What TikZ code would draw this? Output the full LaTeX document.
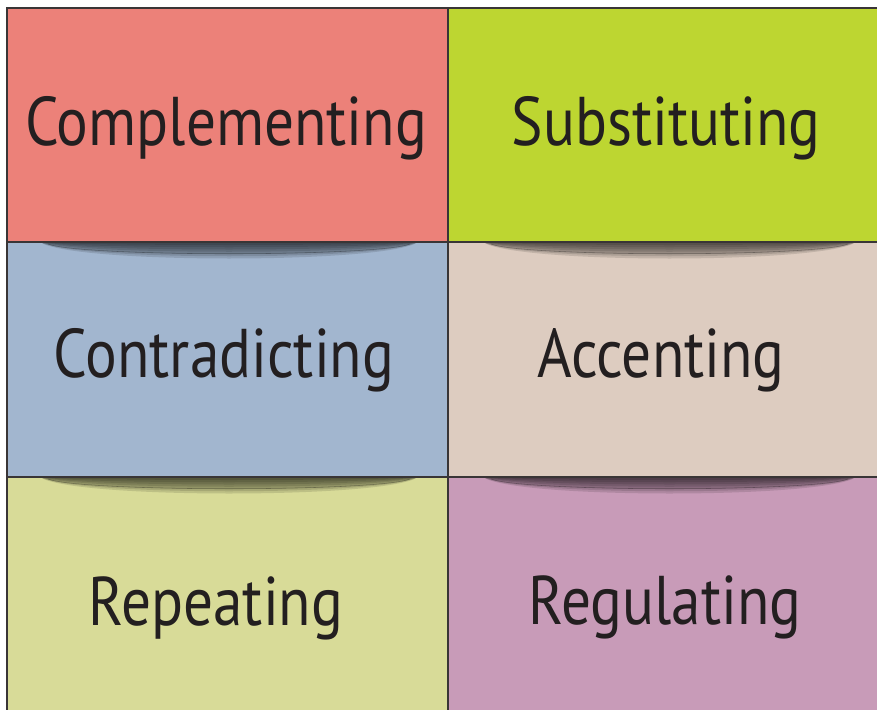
\documentclass[tikz,border=0pt]{standalone}
\usepackage{fontspec}
\setmainfont{PT Sans}[FakeStretch=0.86]
\definecolor{compl}{HTML}{EC8179}
\definecolor{subst}{HTML}{BDD631}
\definecolor{contra}{HTML}{A2B6CF}
\definecolor{accent}{HTML}{DDCCC0}
\definecolor{repeat}{HTML}{D8DB98}
\definecolor{regul}{HTML}{C89BB8}
\definecolor{ink}{HTML}{231F20}
\begin{document}
\begin{tikzpicture}[x=0.025cm, y=-0.025cm,
          cell/.style={draw=ink!90, line width=0.8pt},
          word/.style={anchor=base, text=ink, inner sep=0pt, font=\fontsize{49}{58}\selectfont}]
          \useasboundingbox (0,0) rectangle (877,710);
          \clip (0,0) rectangle (877,710);
          % cells, row by row
          \fill[compl]  (7,8)     rectangle (448,242);
          \fill[subst]  (448,8)   rectangle (890,242);
          \fill[contra] (7,242)   rectangle (448,477);
          \fill[accent] (448,242) rectangle (890,477);
          \fill[repeat] (7,477)   rectangle (448,720);
          \fill[regul]  (448,477) rectangle (890,720);
          % shadows under the upper rows
          \foreach \y in {242,477}{
              \foreach \a/\b in {40/418,483/856}{
                  \foreach \d in {4,7,...,22}{
                      \fill[black, opacity=0.12] (\a,\y) .. controls ({\a+30},{\y+\d}) and ({\b-30},{\y+\d}) .. (\b,\y) -- cycle;
                  }
                  \draw[black, opacity=0.3, line width=0.4pt] (\a+8,\y+2) .. controls ({\a+40},{\y+15}) and ({\b-40},{\y+15}) .. (\b-8,\y+2);
              }}
          \foreach \y in {242,477}{
              \draw[cell] (7,\y) -- (890,\y);
          }
          \draw[cell] (7,720) -- (7,8) -- (890,8);
          \draw[cell] (448,8) -- (448,720);
          % labels
          \node[word] (compl)  at (226,145) {Complementing};
          \node[word] (subst)  at (666,145) {Substituting};
          \node[word] (contra) at (224,377) {Contradicting};
          \node[word] (accent) at (661,377) {Accenting};
          \node[word] (repeat) at (216,625) {Repeating};
          \node[word] (regul)  at (665,624) {Regulating};
\end{tikzpicture}
\end{document}
